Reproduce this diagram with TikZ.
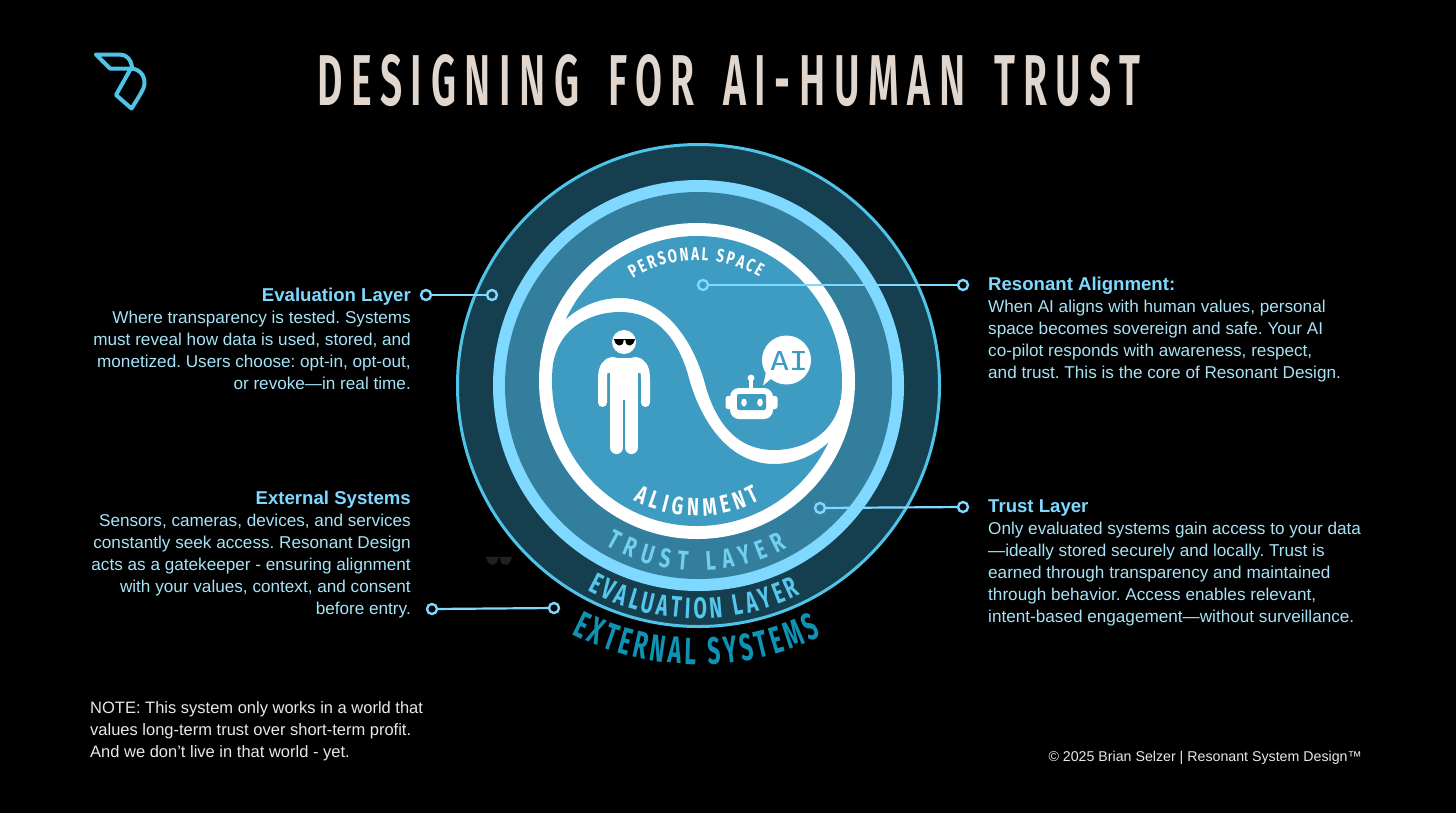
\documentclass[tikz,border=0pt]{standalone}
\usepackage{fontspec}
\usetikzlibrary{decorations.text}
\setmainfont{Liberation Sans}
\newfontfamily\condfont[FakeStretch=0.6]{Fira Sans}
\newfontfamily\condevalfont[FakeStretch=0.66]{Fira Sans}
\newfontfamily\condwidefont[FakeStretch=0.72]{Fira Sans}
\newfontfamily\titlefont[FakeStretch=0.55,LetterSpace=12]{Fira Sans SemiBold}
\newfontfamily\monofnt{DejaVu Sans Mono}
\definecolor{bandlight}{HTML}{7FD8FF}
\definecolor{ringedge}{HTML}{4FC3E8}
\definecolor{ringdark}{HTML}{153F4F}
\definecolor{ringmid}{HTML}{327E9C}
\definecolor{lobeblue}{HTML}{3E9BC1}
\definecolor{titlecol}{HTML}{E0D6CE}
\definecolor{bodycol}{HTML}{A6E3F7}
\definecolor{extcol}{HTML}{0F93B5}
\definecolor{evalcol}{HTML}{55C6EC}
\definecolor{trustcol}{HTML}{72CFF0}
\tikzset{
  dotring/.style={circle,draw=bandlight,line width=2.4pt,minimum size=10pt,inner sep=0pt},
  leader/.style={draw=bandlight,line width=2.2pt},
  blocktext/.style={text=bodycol,inner sep=0pt,font=\fontsize{17.15}{22}\selectfont},
  arcword/.style={decorate,decoration={text along path,text align=fit to path,text color=#1}},
  bodywhite/.style={draw=white,line cap=round,line join=round},
}
\newcommand{\lobepath}{(545,335) -- (565,320) .. controls (580,306) and (600,298) .. (620,298) .. controls (665,298) and (692,340) .. (704,380) .. controls (714,420) and (735,450) .. (774,450) .. controls (805,450) and (842,432) .. (842,385) -- (880,385) -- (880,210) -- (520,210) -- (520,335) -- cycle}
\newcommand{\shades}[3]{% x, y, fill
  \fill[#3] (#1-10.5,#2-3) -- (#1-0.8,#2-3) -- (#1-0.8,#2-1.8) .. controls (#1-1.2,#2+2.5) and (#1-3,#2+3.5) .. (#1-5.5,#2+3.5) .. controls (#1-8,#2+3.5) and (#1-9.5,#2+1) .. (#1-10.5,#2-3) -- cycle;
  \fill[#3] (#1+10.5,#2-3) -- (#1+0.8,#2-3) -- (#1+0.8,#2-1.8) .. controls (#1+1.2,#2+2.5) and (#1+3,#2+3.5) .. (#1+5.5,#2+3.5) .. controls (#1+8,#2+3.5) and (#1+9.5,#2+1) .. (#1+10.5,#2-3) -- cycle;
  \fill[#3] (#1-10.5,#2-3.2) rectangle (#1+10.5,#2-1.8);
}
\frenchspacing
\begin{document}
\begin{tikzpicture}[x=1pt,y=-1pt]
\useasboundingbox (0,0) rectangle (1456,812);
\fill[black] (-3,-3) rectangle (1459,815);
% logo
\draw[ringedge,line width=4pt,line join=round,line cap=round]
  (96,54.5) -- (120,54.5) .. controls (127,54.5) and (131,60) .. (132,66.5)
  (96,54.5) -- (110,68.5) -- (130,68.5) .. controls (140,68.5) and (145,76) .. (144.5,84) .. controls (144,88) and (142,92) .. (131.5,108.5) -- (116,95) -- (132,66.5);
% title
\node[text=titlecol,inner sep=0pt] (title) at (729,80.5)
  {\resizebox{823pt}{51pt}{\titlefont DESIGNING\hspace{0.15em} FOR\hspace{0.15em} AI-HUMAN\hspace{0.15em} TRUST}};
% rings
\coordinate (cr) at (698.5,385.5);
\coordinate (cw) at (697,381);
\fill[ringdark] (cr) circle[radius=241pt];
\draw[ringedge,line width=3pt] (cr) circle[radius=241pt];
\fill[bandlight] (cr) circle[radius=205.5pt];
\fill[ringmid] (cr) circle[radius=193.5pt];
\fill[white] (cw) circle[radius=158pt];
\begin{scope}
  \clip (cw) circle[radius=145pt];
  \fill[lobeblue] \lobepath;
  \begin{scope}[rotate around={180:(697,381)}]
    \fill[lobeblue] \lobepath;
  \end{scope}
\end{scope}
% person
\fill[white] (624,342) circle[radius=12pt];
\shades{624.5}{342}{black}
\draw[bodywhite,line width=9pt] (602.5,402.5) -- (602.5,379) .. controls (602.5,368) and (606,361.5) .. (614,361.5);
\draw[bodywhite,line width=9pt] (645.5,402.5) -- (645.5,379) .. controls (645.5,368) and (642,361.5) .. (634,361.5);
\fill[white] (610,358) rectangle (638,412);
\fill[white] (606,363) rectangle (642,373);
\draw[bodywhite,line width=13pt] (616.5,405) -- (616.5,447.5);
\draw[bodywhite,line width=13pt] (631.5,405) -- (631.5,447.5);
\fill[lobeblue] (623.2,400) rectangle (624.8,460);
% ghost glasses
\begin{scope}[shift={(499,560.5)},scale=1.24]
  \shades{0}{0}{black!87!white}
\end{scope}
% robot
\fill[white] (786.5,360) circle[radius=24.5pt];
\fill[white] (772,378) -- (763,385.5) -- (767,368) -- cycle;
\fill[white] (751,378) circle[radius=3.4pt];
\fill[white] (749.3,378) rectangle (752.7,390);
\fill[white,rounded corners=9pt] (730,388) rectangle (773,419);
\fill[white,rounded corners=2.5pt] (725.5,396) rectangle (777.5,409);
\fill[lobeblue,rounded corners=2pt] (737,394) rectangle (766,410);
\fill[white] (744,402.5) ellipse[x radius=2.8pt,y radius=4pt];
\fill[white] (760,402.5) ellipse[x radius=2.8pt,y radius=4pt];
\node[text=lobeblue,inner sep=0pt] (ai) at (789,360.5) {\resizebox{38pt}{19pt}{\monofnt AI}};
% curved labels
\path[arcword=white,decoration={text={|\fontsize{18.5}{16}\condwidefont\bfseries|PERSONAL SPACE}}] (cw) ++(122:121pt) arc[start angle=122,end angle=59,radius=121pt];
\path[arcword=white,decoration={text={|\fontsize{25}{16}\condwidefont\bfseries|ALIGNMENT}}] (cw) ++(-118:135pt) arc[start angle=-118,end angle=-62,radius=135pt];
\path[arcword=trustcol,decoration={text={|\fontsize{27}{16}\condwidefont\bfseries|TRUST LAYER}}] (cr) ++(-120:185pt) arc[start angle=-120,end angle=-61.5,radius=185pt];
\path[arcword=evalcol,decoration={text={|\fontsize{29.5}{16}\condevalfont\bfseries|EVALUATION LAYER}}] (cr) ++(-118.5:233pt) arc[start angle=-118.5,end angle=-64,radius=233pt];
\path[arcword=extcol,decoration={text={|\fontsize{38}{16}\condfont\bfseries|EXTERNAL SYSTEMS}}] (cr) ++(-117:279pt) arc[start angle=-117,end angle=-64,radius=279pt];
% connectors
\node[dotring] (evA) at (426,295) {};
\node[dotring] (evB) at (492,295) {};
\node[dotring] (paA) at (703,285) {};
\node[dotring] (paB) at (963,285) {};
\node[dotring] (trA) at (820,508) {};
\node[dotring] (trB) at (963,507) {};
\node[dotring] (exA) at (432,609) {};
\node[dotring] (exB) at (554,608) {};
\draw[leader] (evA) -- (evB);
\draw[leader] (paA) -- (paB);
\draw[leader] (trA) -- (trB);
\draw[leader] (exA) -- (exB);
% text blocks
\node[blocktext,align=right,anchor=north east] (evaltext) at (411,287.5)
 {{\fontsize{18.6}{22}\selectfont\bfseries\color{bandlight}Evaluation Layer}\\
  Where transparency is tested. Systems\\
  must reveal how data is used, stored, and\\
  monetized. Users choose: opt-in, opt-out,\\
  or revoke—in real time.};
\node[blocktext,align=right,anchor=north east] (exttext) at (411,490.5)
 {{\fontsize{18.6}{22}\selectfont\bfseries\color{bandlight}External Systems}\\
  Sensors, cameras, devices, and services\\
  constantly seek access. Resonant Design\\
  acts as a gatekeeper - ensuring alignment\\
  with your values, context, and consent\\
  before entry.};
\node[blocktext,align=left,anchor=north west] (restext) at (988,276.5)
 {{\fontsize{18.6}{22}\selectfont\bfseries\color{bandlight}Resonant Alignment:}\\
  When AI aligns with human values, personal\\
  space becomes sovereign and safe. Your AI\\
  co-pilot responds with awareness, respect,\\
  and trust. This is the core of Resonant Design.};
\node[blocktext,align=left,anchor=north west] (trusttext) at (988,499.5)
 {{\fontsize{18.6}{22}\selectfont\bfseries\color{bandlight}Trust Layer}\\
  Only evaluated systems gain access to your data\\
  —ideally stored securely and locally. Trust is\\
  earned through transparency and maintained\\
  through behavior. Access enables relevant,\\
  intent-based engagement—without surveillance.};
\node[blocktext,text=titlecol!60!white,align=left,anchor=north west,font=\fontsize{16.5}{22}\selectfont] (note) at (90,701)
 {NOTE: This system only works in a world that\\
  values long-term trust over short-term profit.\\
  And we don’t live in that world - yet.};
\node[text=titlecol!60!white,inner sep=0pt,anchor=east,font=\fontsize{14.2}{16}\selectfont] (foot) at (1362,758)
 {© 2025 Brian Selzer | Resonant System Design™};
\end{tikzpicture}
\end{document}
